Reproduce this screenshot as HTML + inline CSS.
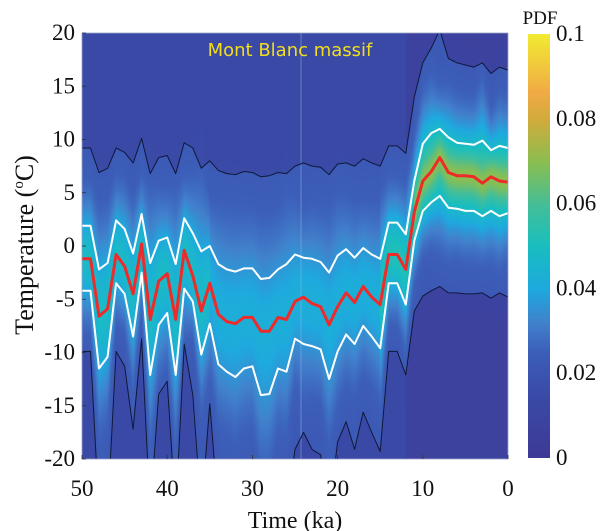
<!DOCTYPE html>
<html><head><meta charset="utf-8">
<style>
html,body{margin:0;padding:0;background:#fff;}
#wrap{position:relative;width:600px;height:531px;overflow:hidden;font-family:"Liberation Serif",serif;}
canvas{position:absolute;}
svg{position:absolute;left:0;top:0;}
</style></head>
<body>
<div id="wrap">
<canvas id="heat" width="426" height="426" style="left:82px;top:33px;width:426px;height:426px"></canvas>
<canvas id="cbar" width="22" height="424" style="left:528px;top:34px;width:22px;height:424px"></canvas>
<svg id="svg" width="600" height="531"></svg>
</div>
<script>
// time axis 50..0 ka, step 1
const times = Array.from({length:51},(_,i)=>50-i);
const medianT = [-1.2,-1.2,-6.6,-5.9,-0.8,-1.9,-4.5,0.2,-6.9,-3.3,-2.6,-6.9,-0.4,-2.8,-6.1,-3.5,-6.4,-7.1,-7.3,-6.7,-6.7,-8.0,-8.0,-6.7,-6.9,
 -5.2,-4.8,-5.4,-5.7,-7.4,-5.7,-4.4,-5.3,-3.8,-4.8,-5.5,
 -0.8,-0.8,-2.2,3.2,6.1,7.0,8.3,6.9,6.6,6.6,6.5,5.9,6.5,6.1,6.0];
const upperWhite = [1.9,1.9,-2.2,-1.6,2.4,1.6,-0.7,3.0,-1.6,0.5,0.8,-1.7,2.6,1.2,-0.5,0.0,-1.7,-2.2,-2.4,-2.1,-2.1,-3.1,-3.0,-2.2,-1.7,
 -0.8,-1.1,-1.2,-1.5,-2.5,-0.9,-0.3,-1.1,-0.2,-0.8,-1.2,
 2.2,2.2,1.1,6.1,9.6,10.6,11.0,10.2,9.7,9.6,9.5,9.9,9.0,9.4,9.2];
const lowerWhite = [-4.2,-4.2,-11.5,-10.4,-3.5,-4.5,-8.5,-2.5,-12.1,-7.4,-6.3,-12.1,-4.0,-5.2,-10.2,-7.3,-11.1,-11.8,-12.3,-11.5,-11.3,-14.0,-13.9,-11.5,-11.8,
 -8.7,-9.2,-9.4,-9.7,-12.5,-9.9,-8.3,-9.2,-7.5,-8.5,-9.6,
 -3.5,-3.5,-5.5,0.5,3.3,4.1,4.7,3.6,3.5,3.3,3.3,2.8,3.3,2.8,3.1];
const upperBlack = [9.2,9.2,6.9,7.3,9.2,8.8,7.8,10.1,6.8,8.3,8.5,6.8,9.7,9.2,7.3,8.0,7.1,6.8,6.7,7.0,6.9,6.5,6.6,6.9,6.8,
 7.5,7.8,7.5,7.4,6.7,7.7,7.8,7.5,8.2,7.8,7.5,
 9.4,9.4,8.7,14.0,17.2,18.6,20.3,17.6,17.2,17.0,16.8,17.2,16.2,16.8,16.5];
const lowerBlack = [-9.9,-9.9,-25,-25,-9.9,-11.3,-17.2,-8.7,-25,-13.9,-12.7,-25,-9.2,-14.0,-25,-14.8,-25,-25,-25,-25,-25,-25,-25,-25,-25,
 -19.1,-17.5,-19.1,-19.6,-25,-18.4,-16.5,-19.1,-15.6,-17.5,-19.3,
 -9.9,-9.9,-12.1,-6.1,-4.7,-4.2,-3.8,-4.4,-4.4,-4.5,-4.5,-4.4,-4.9,-4.4,-4.8];
const xTicks = [50,40,30,20,10,0];
const yTicks = [20,15,10,5,0,-5,-10,-15,-20];
const cTicks = [0,0.02,0.04,0.06,0.08,0.1];

const PX0=82,PX1=508,PY0=33,PY1=459;
const xs = t => PX0 + (50-t)/50*(PX1-PX0);
const ys = v => PY0 + (20-v)/40*(PY1-PY0);
const cs = p => 458 - p/0.1*424;

const cmapStops=[[0,[62,58,150]],[0.15,[58,75,168]],[0.25,[60,95,185]],[0.32,[65,130,205]],[0.4,[30,170,222]],[0.5,[25,190,192]],[0.6,[70,190,150]],[0.7,[140,190,80]],[0.8,[210,172,60]],[0.86,[240,170,70]],[1,[242,235,50]]];
function cmap(f){f=Math.max(0,Math.min(1,f));for(let i=1;i<cmapStops.length;i++){if(f<=cmapStops[i][0]){const a=cmapStops[i-1],b=cmapStops[i];const u=(f-a[0])/(b[0]-a[0]);return a[1].map((c,k)=>c+(b[1][k]-c)*u);}}return cmapStops[cmapStops.length-1][1];}
function interp(arr,t){const fi=50-t;const i=Math.max(0,Math.min(49,Math.floor(fi)));const u=Math.max(0,Math.min(1,fi-i));return arr[i]*(1-u)+arr[i+1]*u;}

(function(){
 const cv=document.getElementById('heat');const ctx=cv.getContext('2d');
 const W=cv.width,H=cv.height;const img=ctx.createImageData(W,H);
 for(let px=0;px<W;px++){
  const t=50-(px+0.5)/W*50;
  const m=interp(medianT,t),u=interp(upperWhite,t),l=interp(lowerWhite,t),U=interp(upperBlack,t),L=Math.max(-22,interp(lowerBlack,t));
  const A = t<=11 ? 0.036 : (t<=15 ? 0.03 : (t>35 ? 0.026 : 0.02));
  const su=Math.max(1.5,(u-m)/0.85), sl=Math.max(1.5,(m-l)/0.85);
  for(let py=0;py<H;py++){
   const T=20-(py+0.5)/H*40;
   let d = (T<U && T>L) ? 0.022 : (t<12 ? 0.007 : 0.013);
   const s=T>m?su:sl;const z=(T-m)/s;
   d+=A*Math.exp(-0.5*z*z);
   if(t<11){const z2=(T-m)/1.2;d+=0.012*Math.exp(-0.5*z2*z2);}
   const c=cmap(d/0.1);const k=(py*W+px)*4;
   img.data[k]=c[0];img.data[k+1]=c[1];img.data[k+2]=c[2];img.data[k+3]=255;
  }
 }
 ctx.putImageData(img,0,0);
 const cb=document.getElementById('cbar').getContext('2d');
 for(let y=0;y<424;y++){const c=cmap(1-y/424);cb.fillStyle=`rgb(${c[0]|0},${c[1]|0},${c[2]|0})`;cb.fillRect(0,y,22,1);}
})();

const NS='http://www.w3.org/2000/svg';
const svg=document.getElementById('svg');
function mk(tag,attrs,parent){const e=document.createElementNS(NS,tag);for(const k in attrs)e.setAttribute(k,attrs[k]);(parent||svg).appendChild(e);return e;}
const defs=mk('defs',{});
const cp=mk('clipPath',{id:'pc'},defs);mk('rect',{x:PX0,y:PY0,width:PX1-PX0,height:PY1-PY0},cp);
const g=mk('g',{'clip-path':'url(#pc)'});



const vl=mk('line',{x1:301,x2:301,y1:PY0,y2:PY1,stroke:'#8fb6e8','stroke-width':1,opacity:0.5},g);



function series(arr,color,w,name){
 const d=arr.map((v,i)=>(i?'L':'M')+xs(times[i]).toFixed(1)+' '+ys(v).toFixed(1)).join(' ');
 const p=mk('path',{d:d,fill:'none',stroke:color,'stroke-width':w,'stroke-linejoin':'round'},g);
 
 
}
series(upperBlack,'#10183a',1,'upper-black-line');
series(lowerBlack,'#10183a',1,'lower-black-line');
series(upperWhite,'#ffffff',2,'upper-white-line');
series(lowerWhite,'#ffffff',2,'lower-white-line');
series(medianT,'#ee2a2a',3,'median-red-line');

const box=mk('rect',{x:PX0,y:PY0,width:PX1-PX0,height:PY1-PY0,fill:'none',stroke:'#9aa4c8','stroke-width':0.8});



const fontS='"Liberation Serif",serif';
xTicks.forEach(v=>{
 const x=xs(v);
 const tk=mk('line',{x1:x,x2:x,y1:PY1,y2:PY1-4,stroke:'#333','stroke-width':0.8});
 
 
 const t=mk('text',{x:x,y:496,'text-anchor':'middle','font-family':fontS,'font-size':23,fill:'#111'});
 t.textContent=v;
 
 
});
yTicks.forEach(v=>{
 const y=ys(v);
 const tk=mk('line',{x1:PX0,x2:PX0+4,y1:y,y2:y,stroke:'#333','stroke-width':0.8});
 
 
 const t=mk('text',{x:75,y:y+7,'text-anchor':'end','font-family':fontS,'font-size':23,fill:'#111'});
 t.textContent=v;
 
 
});
cTicks.forEach(v=>{
 const y=cs(v);
 const t=mk('text',{x:556,y:y+7,'font-family':fontS,'font-size':23,fill:'#111'});
 t.textContent=v;
 
 
});
</script>
<svg width="600" height="531" style="position:absolute;left:0;top:0">
 <text x="295" y="528" text-anchor="middle" font-family="Liberation Serif, serif" font-size="24" fill="#111">Time (ka)</text>
 <text transform="translate(33,245) rotate(-90)" text-anchor="middle" font-family="Liberation Serif, serif" font-size="26" fill="#111">Temperature (<tspan font-size="15" dy="-10">o</tspan><tspan dy="10">C)</tspan></text>
 <text x="540" y="24" text-anchor="middle" font-family="Liberation Serif, serif" font-size="19" fill="#111">PDF</text>
 <text x="290" y="56" text-anchor="middle" font-family="DejaVu Sans, Liberation Sans, sans-serif" font-size="18" fill="#f2de1a">Mont Blanc massif</text>
</svg>
</body></html>
